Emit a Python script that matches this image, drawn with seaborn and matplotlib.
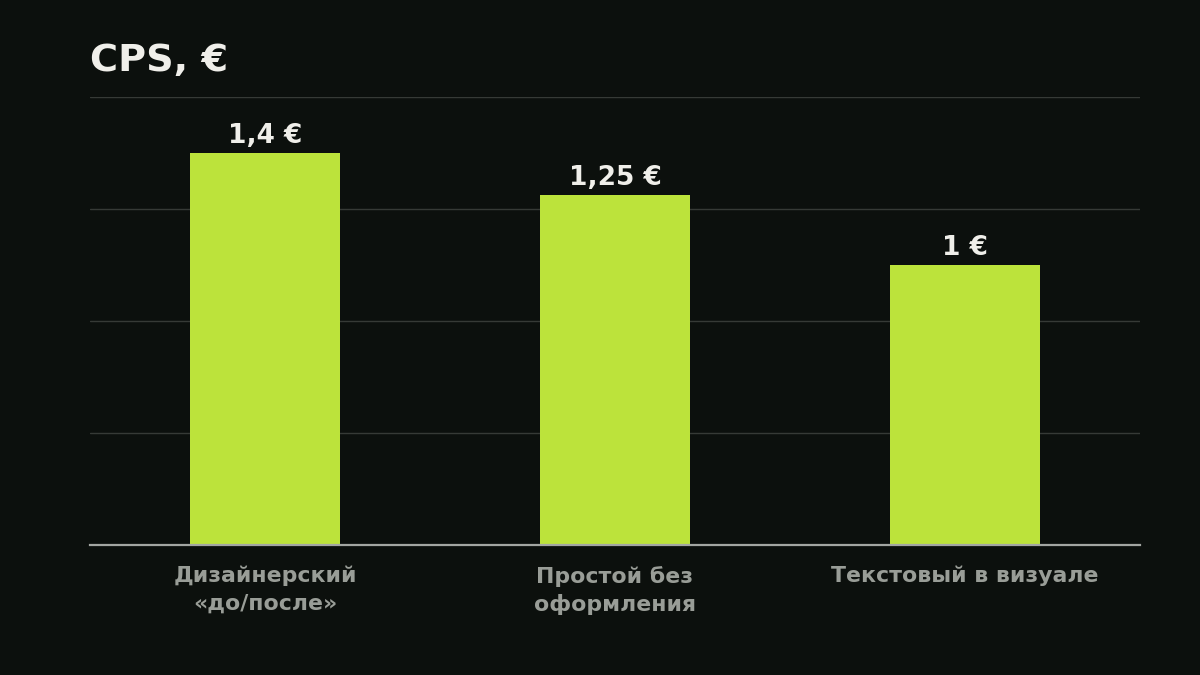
import pandas as pd
import matplotlib
matplotlib.use("Agg")
import matplotlib.pyplot as plt
import seaborn as sns

categories = ["Дизайнерский\n«до/после»", "Простой без\nоформления", "Текстовый в визуале"]
cps_values = [1.4, 1.25, 1.0]
value_labels = ["1,4 €", "1,25 €", "1 €"]

bg = "#0c100d"
bar_color = "#bce33b"

sns.set_theme(style="dark")
plt.rcParams["font.family"] = ["DejaVu Sans"]

df = pd.DataFrame({"category": categories, "cps": cps_values})

fig = plt.figure(figsize=(12, 6.75), dpi=100, facecolor=bg)
ax = fig.add_axes([0.075, 0.1926, 0.875, 0.6637])
ax.set_facecolor(bg)

sns.barplot(data=df, x="category", y="cps", color=bar_color, width=0.43,
            saturation=1, linewidth=0, edgecolor=bar_color, ax=ax, zorder=3)

ax.set_ylim(0, 1.6)
ax.set_xlim(-0.5, 2.5)
ax.set_yticks([0.4, 0.8, 1.2, 1.6])
ax.yaxis.grid(True, color="#363a36", linewidth=1)
ax.xaxis.grid(False)
ax.tick_params(axis="y", left=False, labelleft=False)
ax.tick_params(axis="x", bottom=False, pad=9)
for lbl in ax.get_xticklabels():
    lbl.set_color("#999d97")
    lbl.set_fontsize(15.8)
    lbl.set_fontweight("bold")
    lbl.set_linespacing(1.45)
ax.set_xlabel("")
ax.set_ylabel("")

for side in ["top", "right", "left"]:
    ax.spines[side].set_visible(False)
ax.spines["bottom"].set_color("#a3a6a2")
ax.spines["bottom"].set_linewidth(1.6)
ax.spines["bottom"].set_zorder(4)

for i, (v, txt) in enumerate(zip(cps_values, value_labels)):
    ax.annotate(txt, (i, v), xytext=(0, 3), textcoords="offset points",
                ha="center", va="bottom", color="#f0efea",
                fontsize=19, fontweight="bold")

fig.text(0.075, (675 - 71) / 675, "CPS, €", color="#f0efea", fontsize=27.5,
         fontweight="bold", ha="left", va="baseline")

fig.savefig("out.png", dpi=100, facecolor=bg)
